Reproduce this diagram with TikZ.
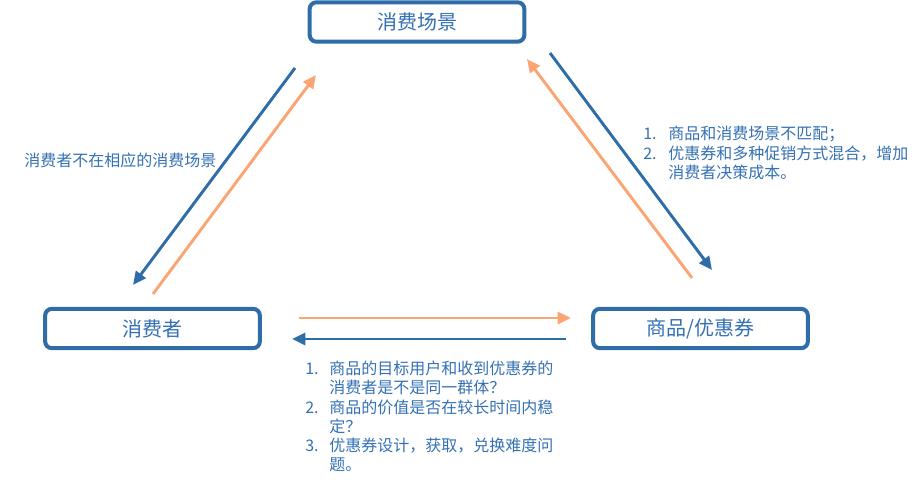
\documentclass[tikz,border=0pt]{standalone}
\usepackage{fontspec}
\setmainfont{Noto Sans CJK SC}
\usetikzlibrary{arrows.meta}
\definecolor{boxblue}{RGB}{46,109,168}
\definecolor{txtblue}{RGB}{52,112,180}
\definecolor{arrorange}{RGB}{250,165,115}
\tikzset{
  boxnode/.style={draw=boxblue, line width=3pt, rounded corners=5pt, fill=white,
    minimum width=161pt, minimum height=29.5pt, inner sep=0pt,
    text=txtblue, font=\fontsize{15}{18}\selectfont},
  bluearr/.style={draw=boxblue, line width=2.2pt, -{Triangle[length=10pt,width=9pt]}},
  orarr/.style={draw=arrorange, line width=2.2pt, -{Triangle[length=10pt,width=9pt]}},
  lbl/.style={text=txtblue, inner sep=0pt, font=\fontsize{12}{14.3}\selectfont},
}
\begin{document}
\begin{tikzpicture}[x=0.75pt,y=-0.75pt]
\useasboundingbox (0,0) rectangle (917,484);
\node[boxnode] (scene) at (417,22) {消费场景};
\node[boxnode] (consumer) at (152.5,328.5) {消费者};
\node[boxnode] (goods) at (700.5,328.5) {商品/优惠券};
% left pair
\coordinate (lb1) at (295,68);
\coordinate (lb2) at (133,285);
\coordinate (lo1) at (153,294);
\coordinate (lo2) at (316,75);
\draw[bluearr] (lb1) -- (lb2);
\draw[orarr] (lo1) -- (lo2);
% right pair
\coordinate (rb1) at (550,53);
\coordinate (rb2) at (712,270);
\coordinate (ro1) at (692,278);
\coordinate (ro2) at (527,59);
\draw[bluearr] (rb1) -- (rb2);
\draw[orarr] (ro1) -- (ro2);
% bottom pair
\coordinate (bo1) at (299,318);
\coordinate (bo2) at (571,318);
\coordinate (bb1) at (566,339);
\coordinate (bb2) at (292,339);
\draw[orarr] (bo1) -- (bo2);
\draw[bluearr] (bb1) -- (bb2);
% labels
\node[lbl, anchor=west] (leftlbl) at (24,160) {消费者不在相应的消费场景};
\node[lbl, anchor=north west] (rightlbl) at (643,126) {%
\begin{tabular}{@{}p{18.75pt}@{}l@{}}
1. & 商品和消费场景不匹配；\\
2. & 优惠券和多种促销方式混合，增加\\
   & 消费者决策成本。
\end{tabular}};
\node[lbl, anchor=north west] (bottomlbl) at (305,361) {%
\begin{tabular}{@{}p{18pt}@{}l@{}}
1. & 商品的目标用户和收到优惠券的\\
   & 消费者是不是同一群体？\\
2. & 商品的价值是否在较长时间内稳\\
   & 定？\\
3. & 优惠券设计，获取，兑换难度问\\
   & 题。
\end{tabular}};
\end{tikzpicture}
\end{document}
